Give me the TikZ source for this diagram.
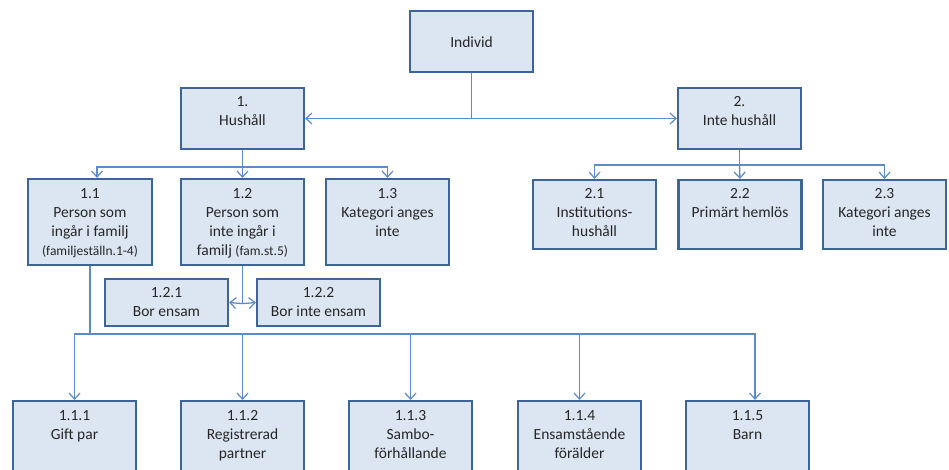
\documentclass[tikz,border=0pt]{standalone}
\usepackage{fontspec}
\setmainfont{Carlito}
\usetikzlibrary{arrows.meta}
\definecolor{boxfill}{HTML}{DCE6F2}
\definecolor{boxline}{HTML}{3E6597}
\definecolor{conncol}{HTML}{5B8BC9}
\definecolor{textcol}{HTML}{262626}
\newcommand{\boxlines}[1]{\parbox[t]{140pt}{\fontsize{15.5}{19}\selectfont\centering #1}}
\newcommand{\smalltxt}[1]{{\fontsize{13.5}{19}\selectfont #1}}
\begin{document}
\begin{tikzpicture}[x=1pt,y=-1pt,
  box/.style={draw=boxline, fill=boxfill, line width=2.2pt, minimum width=123pt, inner sep=0pt},
  txt/.style={anchor=base, inner sep=0pt, text=textcol},
  conn/.style={draw=conncol, line width=1.3pt},
  arr/.style={conn, -{Straight Barb[length=6pt,width=11pt,line width=1.2pt]}}]
\clip (0,0) rectangle (949,469);
\fill[white] (0,0) rectangle (949,469);

% boxes
\node[box, minimum height=61pt] (ind)  at (471.5,41.5) {};
\node[box, minimum height=61pt] (hus)  at (242.5,118.5) {};
\node[box, minimum height=61pt] (inte) at (739.5,118.5) {};
\node[box, minimum height=86pt, minimum width=124pt] (b11) at (90,222) {};
\node[box, minimum height=86pt] (b12) at (242.5,222) {};
\node[box, minimum height=86pt] (b13) at (387.5,222) {};
\node[box, minimum height=69pt] (b21) at (594.5,214.5) {};
\node[box, minimum height=69pt] (b22) at (740,214.5) {};
\node[box, minimum height=69pt] (b23) at (884.5,214.5) {};
\node[box, minimum height=47pt] (b121) at (166.5,302.5) {};
\node[box, minimum height=47pt] (b122) at (318.5,302.5) {};
\node[box, minimum height=90pt] (b111) at (74.5,446) {};
\node[box, minimum height=90pt] (b112) at (242.5,446) {};
\node[box, minimum height=90pt] (b113) at (410.5,446) {};
\node[box, minimum height=90pt] (b114) at (579.5,446) {};
\node[box, minimum height=90pt] (b115) at (747.5,446) {};

% texts
\node[txt] (tind)  at ([yshift=-5.5pt]ind.center) {\boxlines{Individ}};
\node[txt] (thus)  at ([yshift=-20pt]hus.north) {\boxlines{1.\\Hushåll}};
\node[txt] (tinte) at ([yshift=-20pt]inte.north) {\boxlines{2.\\Inte hushåll}};
\node[txt] (t11) at ([yshift=-20.5pt]b11.north) {\boxlines{1.1\\Person som\\ingår i familj\\\smalltxt{(familjeställn.1-4)}}};
\node[txt] (t12) at ([yshift=-20.5pt]b12.north) {\boxlines{1.2\\Person som\\inte ingår i\\familj \smalltxt{(fam.st.5)}}};
\node[txt] (t13) at ([yshift=-20.5pt]b13.north) {\boxlines{1.3\\Kategori anges\\inte}};
\node[txt] (t21) at ([yshift=-19.5pt]b21.north) {\boxlines{2.1\\Institutions-\\hushåll}};
\node[txt] (t22) at ([yshift=-19.5pt]b22.north) {\boxlines{2.2\\Primärt hemlös}};
\node[txt] (t23) at ([yshift=-19.5pt]b23.north) {\boxlines{2.3\\Kategori anges\\inte}};
\node[txt] (t121) at ([yshift=-19.5pt]b121.north) {\boxlines{1.2.1\\Bor ensam}};
\node[txt] (t122) at ([yshift=-19.5pt]b122.north) {\boxlines{1.2.2\\Bor inte ensam}};
\node[txt] (t111) at ([yshift=-21pt]b111.north) {\boxlines{1.1.1\\Gift par}};
\node[txt] (t112) at ([yshift=-21pt]b112.north) {\boxlines{1.1.2\\Registrerad\\partner}};
\node[txt] (t113) at ([yshift=-21pt]b113.north) {\boxlines{1.1.3\\Sambo-\\förhållande}};
\node[txt] (t114) at ([yshift=-21pt]b114.north) {\boxlines{1.1.4\\Ensamstående\\förälder}};
\node[txt] (t115) at ([yshift=-21pt]b115.north) {\boxlines{1.1.5\\Barn}};

% connectors
\draw[arr] (ind.south) |- (hus.east);
\draw[arr] (ind.south) |- (inte.west);

\path (hus.south) ++(0,17) coordinate (jh);
\draw[conn] (hus.south) -- (jh);
\draw[arr] (jh) -| ([xshift=7pt]b11.north);
\draw[arr] (jh) -- (b12.north);
\draw[arr] (jh) -| (b13.north);

\path (inte.south) ++(0,15) coordinate (ji);
\draw[conn] (inte.south) -- (ji);
\draw[arr] (ji) -| (b21.north);
\draw[arr] (ji) -- (b22.north);
\draw[arr] (ji) -| (b23.north);

\path (b12.south) ++(0,37.5) coordinate (j12);
\draw[conn] (b12.south) -- (j12);
\draw[arr] (j12) -- (b121.east);
\draw[arr] (j12) -- (b122.west);

\path (b11.south) ++(0,68) coordinate (j11);
\draw[conn] (b11.south) -- (j11);
\draw[arr] (j11) -| (b111.north);
\draw[arr] (j11) -| (b112.north);
\draw[arr] (j11) -| (b113.north);
\draw[arr] (j11) -| (b114.north);
\draw[arr] (j11) -| ([xshift=7.5pt]b115.north);
\end{tikzpicture}
\end{document}
